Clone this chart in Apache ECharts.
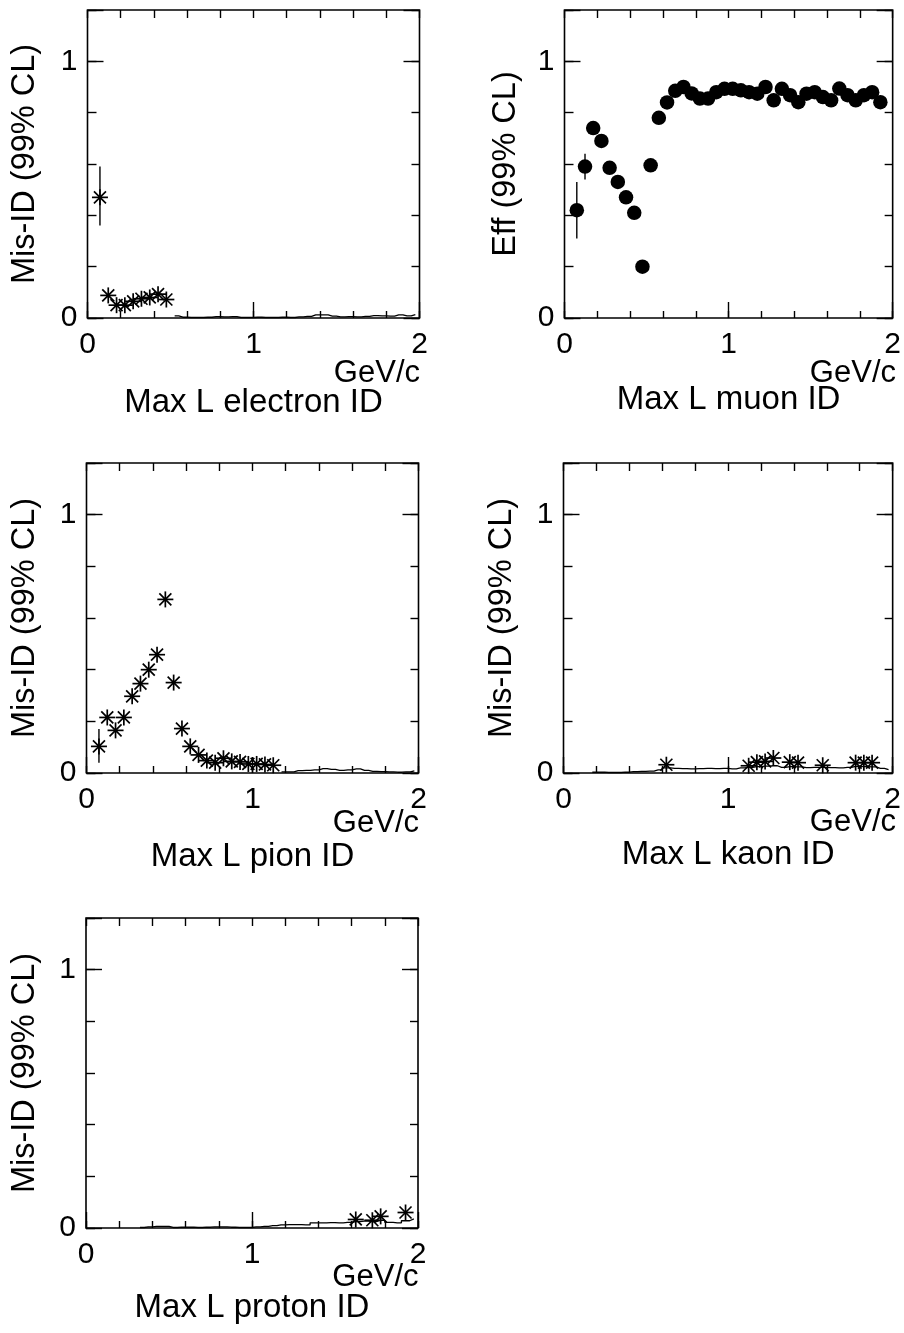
<!DOCTYPE html>
<html>
<head>
<meta charset="utf-8">
<script src="https://cdn.jsdelivr.net/npm/echarts@6/dist/echarts.min.js"></script>
<style>
  html, body { margin: 0; padding: 0; background: #fff; }
  #chart { width: 904px; height: 1333px; }
</style>
</head>
<body>
<div id="chart"></div>
<script>
// Momentum bin centres are in GeV/c (50 MeV bins).

// Max L electron ID: mis-ID rate
const electronX = [0.075, 0.125, 0.175, 0.225, 0.275, 0.325, 0.375, 0.425, 0.475];
const electronY = [0.47, 0.088, 0.05, 0.05, 0.065, 0.075, 0.08, 0.093, 0.072];
const electronErr = [[0.075, 0.36, 0.59]];
const electronStepX = [0.525, 0.575, 0.625, 0.675, 0.725, 0.775, 0.825, 0.875, 0.925, 0.975,
  1.025, 1.075, 1.125, 1.175, 1.225, 1.275, 1.325, 1.375, 1.425, 1.475,
  1.525, 1.575, 1.625, 1.675, 1.725, 1.775, 1.825, 1.875, 1.925, 1.975];
const electronStepY = [0.008, 0.003, 0.002, 0.002, 0.003, 0.005, 0.004, 0.005, 0.002, 0.002,
  0.003, 0.002, 0.002, 0.003, 0.002, 0.004, 0.006, 0.012, 0.012, 0.007,
  0.004, 0.005, 0.004, 0.006, 0.009, 0.008, 0.007, 0.012, 0.008, 0.013];

// Max L muon ID: efficiency
const muonX = [0.075, 0.125, 0.175, 0.225, 0.275, 0.325, 0.375, 0.425, 0.475, 0.525,
  0.575, 0.625, 0.675, 0.725, 0.775, 0.825, 0.875, 0.925, 0.975, 1.025,
  1.075, 1.125, 1.175, 1.225, 1.275, 1.325, 1.375, 1.425, 1.475, 1.525,
  1.575, 1.625, 1.675, 1.725, 1.775, 1.825, 1.875, 1.925];
const muonY = [0.42, 0.59, 0.74, 0.69, 0.585, 0.53, 0.47, 0.41, 0.2, 0.595,
  0.78, 0.84, 0.885, 0.9, 0.875, 0.855, 0.855, 0.88, 0.893, 0.893,
  0.887, 0.88, 0.874, 0.9, 0.848, 0.893, 0.868, 0.841, 0.874, 0.88,
  0.861, 0.848, 0.894, 0.868, 0.848, 0.868, 0.88, 0.841];
const muonErr = [[0.075, 0.31, 0.53], [0.125, 0.54, 0.64]];

// Max L pion ID: mis-ID rate
const pionX = [0.075, 0.125, 0.175, 0.225, 0.275, 0.325, 0.375, 0.425, 0.475, 0.525,
  0.575, 0.625, 0.675, 0.725, 0.775, 0.825, 0.875, 0.925, 0.975, 1.025,
  1.075, 1.125];
const pionY = [0.103, 0.215, 0.165, 0.215, 0.297, 0.346, 0.4, 0.458, 0.672, 0.35,
  0.172, 0.103, 0.07, 0.048, 0.04, 0.057, 0.045, 0.043, 0.035, 0.035,
  0.033, 0.03];
const pionErr = [[0.075, 0.04, 0.17]];
const pionStepX = [1.175, 1.225, 1.275, 1.325, 1.375, 1.425, 1.475, 1.525, 1.575, 1.625,
  1.675, 1.725, 1.775, 1.825, 1.875, 1.925, 1.975];
const pionStepY = [0.004, 0.004, 0.009, 0.01, 0.012, 0.017, 0.014, 0.01, 0.012, 0.016,
  0.01, 0.006, 0.005, 0.004, 0.003, 0.004, 0.008];

// Max L kaon ID: mis-ID rate
const kaonX = [0.625, 1.125, 1.175, 1.225, 1.275, 1.375, 1.425, 1.575, 1.775, 1.825, 1.875];
const kaonY = [0.032, 0.028, 0.042, 0.045, 0.058, 0.042, 0.04, 0.03, 0.04, 0.04, 0.04];
const kaonStepX = [0.175, 0.225, 0.275, 0.325, 0.375, 0.425, 0.475, 0.525, 0.575, 0.625,
  0.675, 0.725, 0.775, 0.825, 0.875, 0.925, 0.975, 1.025, 1.075, 1.125,
  1.175, 1.225, 1.275, 1.325, 1.375, 1.425, 1.475, 1.525, 1.575, 1.625,
  1.675, 1.725, 1.775, 1.825, 1.875, 1.925, 1.975];
const kaonStepY = [0.003, 0.003, 0.002, 0.002, 0.003, 0.005, 0.006, 0.007, 0.012, 0.02,
  0.018, 0.017, 0.016, 0.017, 0.018, 0.017, 0.018, 0.016, 0.02, 0.022,
  0.025, 0.027, 0.028, 0.022, 0.025, 0.024, 0.021, 0.022, 0.022, 0.021,
  0.02, 0.022, 0.026, 0.025, 0.024, 0.018, 0.013];

// Max L proton ID: mis-ID rate
const protonX = [1.625, 1.725, 1.775, 1.925];
const protonY = [0.033, 0.03, 0.045, 0.06];
const protonStepX = [0.325, 0.375, 0.425, 0.475, 0.525, 0.575, 0.625, 0.675, 0.725, 0.775,
  0.825, 0.875, 0.925, 0.975, 1.025, 1.075, 1.125, 1.175, 1.225, 1.275,
  1.325, 1.375, 1.425, 1.475, 1.525, 1.575, 1.625, 1.675, 1.725, 1.775,
  1.825, 1.875, 1.925, 1.975];
const protonStepY = [0.002, 0.004, 0.006, 0.006, 0.002, 0.003, 0.003, 0.002, 0.003, 0.004,
  0.004, 0.003, 0.002, 0.002, 0.004, 0.006, 0.009, 0.012, 0.013, 0.013,
  0.012, 0.02, 0.02, 0.021, 0.02, 0.022, 0.025, 0.027, 0.025, 0.03,
  0.022, 0.02, 0.028, 0.035];

// Axis labels
const xTickLabels = ['0', '1', '2'];
const yTickLabels = ['0', '1'];
const xUnit = 'GeV/c';
const titles = ['Max L electron ID', 'Max L muon ID', 'Max L pion ID', 'Max L kaon ID', 'Max L proton ID'];
const yNames = ['Mis-ID (99% CL)', 'Eff (99% CL)', 'Mis-ID (99% CL)', 'Mis-ID (99% CL)', 'Mis-ID (99% CL)'];

const FONT = '"Liberation Sans", Arial, Helvetica, sans-serif';

const panels = [
  { x: electronX, y: electronY, err: electronErr, marker: 'star', stepX: electronStepX, stepY: electronStepY },
  { x: muonX, y: muonY, err: muonErr, marker: 'dot' },
  { x: pionX, y: pionY, err: pionErr, marker: 'star', stepX: pionStepX, stepY: pionStepY },
  { x: kaonX, y: kaonY, err: [], marker: 'star', stepX: kaonStepX, stepY: kaonStepY },
  { x: protonX, y: protonY, err: [], marker: 'star', stepX: protonStepX, stepY: protonStepY }
];

// Frame geometry for the five panels
const frames = [
  { left: 87.5, top: 10, width: 332, height: 308, yGap: 45.5, titleGap: 68.5, unitDy: 55 },
  { left: 564.5, top: 10, width: 331, height: 308, yGap: 42, titleGap: 65.5, unitDy: 55 },
  { left: 86.5, top: 463, width: 332, height: 310, yGap: 44.5, titleGap: 67, unitDy: 50 },
  { left: 563.5, top: 463, width: 332, height: 310, yGap: 44.5, titleGap: 65, unitDy: 49 },
  { left: 86, top: 918, width: 332, height: 310, yGap: 44, titleGap: 63, unitDy: 49 }
];

const tickStyle = { color: '#000', width: 1.4 };

function valueAxis(gridIndex, extra) {
  return Object.assign({
    type: 'value',
    gridIndex: gridIndex,
    axisLine: { show: false, onZero: false },
    splitLine: { show: false },
    axisLabel: { show: false },
    axisTick: { show: true, inside: true, length: 8, lineStyle: tickStyle }
  }, extra);
}

// Eight-armed asterisk marker with a dot at its centre
function renderStar(params, api) {
  const p = api.coord([api.value(0), api.value(1)]);
  const r = 8;
  const d = 6;
  const st = { stroke: '#000', lineWidth: 1.7 };
  return {
    type: 'group',
    children: [
      { type: 'line', shape: { x1: p[0] - r, y1: p[1], x2: p[0] + r, y2: p[1] }, style: st },
      { type: 'line', shape: { x1: p[0], y1: p[1] - r, x2: p[0], y2: p[1] + r }, style: st },
      { type: 'line', shape: { x1: p[0] - d, y1: p[1] - d, x2: p[0] + d, y2: p[1] + d }, style: st },
      { type: 'line', shape: { x1: p[0] - d, y1: p[1] + d, x2: p[0] + d, y2: p[1] - d }, style: st },
      { type: 'circle', shape: { cx: p[0], cy: p[1], r: 2 }, style: { fill: '#000' } }
    ]
  };
}

// Vertical error bar from low to high value
function renderErr(params, api) {
  const a = api.coord([api.value(0), api.value(1)]);
  const b = api.coord([api.value(0), api.value(2)]);
  return {
    type: 'line',
    shape: { x1: a[0], y1: a[1], x2: b[0], y2: b[1] },
    style: { stroke: '#000', lineWidth: 1.4 }
  };
}

const grid = [], xAxis = [], yAxis = [], series = [], graphic = [];

panels.forEach((pn, i) => {
  const f = frames[i];
  grid.push({
    left: f.left, top: f.top, width: f.width, height: f.height,
    show: true, borderColor: '#000', borderWidth: 1.6, backgroundColor: 'transparent'
  });

  const xBase = { min: 0, max: 2 };
  const yBase = { min: 0, max: 1.2 };

  // x axes: bottom minor ticks, bottom major ticks with labels, top ticks
  xAxis.push(valueAxis(i, Object.assign({ position: 'bottom', interval: 0.2,
    axisTick: { show: true, inside: true, length: 7, lineStyle: tickStyle } }, xBase)));
  const xMain = xAxis.length;
  xAxis.push(valueAxis(i, Object.assign({
    position: 'bottom', interval: 1,
    axisTick: { show: true, inside: true, length: 16, lineStyle: tickStyle },
    axisLabel: {
      show: true, margin: 12, color: '#000', fontSize: 30, fontFamily: FONT,
      formatter: v => xTickLabels[Math.round(v)] || ''
    },
    name: titles[i], nameLocation: 'middle', nameGap: f.titleGap,
    nameTextStyle: { color: '#000', fontSize: 33, fontFamily: FONT }
  }, xBase)));
  xAxis.push(valueAxis(i, Object.assign({ position: 'top', interval: 0.2,
    axisTick: { show: true, inside: true, length: 8, lineStyle: tickStyle } }, xBase)));

  // y axes: left minor, left major with labels, right minor, right major
  yAxis.push(valueAxis(i, Object.assign({ position: 'left', interval: 0.2,
    axisTick: { show: true, inside: true, length: 9, lineStyle: tickStyle } }, yBase)));
  const yMain = yAxis.length;
  yAxis.push(valueAxis(i, Object.assign({
    position: 'left', interval: 1,
    axisTick: { show: true, inside: true, length: 16, lineStyle: tickStyle },
    axisLabel: {
      show: true, margin: 10, color: '#000', fontSize: 30, fontFamily: FONT,
      formatter: v => (Math.abs(v - Math.round(v)) < 1e-9 ? (yTickLabels[Math.round(v)] || '') : '')
    },
    name: yNames[i], nameLocation: 'middle', nameGap: f.yGap, nameRotate: 90,
    nameTextStyle: { color: '#000', fontSize: 32.5, fontFamily: FONT }
  }, yBase)));
  yAxis.push(valueAxis(i, Object.assign({ position: 'right', interval: 0.2,
    axisTick: { show: true, inside: true, length: 8, lineStyle: tickStyle } }, yBase)));
  yAxis.push(valueAxis(i, Object.assign({ position: 'right', interval: 1,
    axisTick: { show: true, inside: true, length: 16, lineStyle: tickStyle } }, yBase)));

  const axes = { xAxisIndex: xMain, yAxisIndex: yMain };

  if (pn.stepX) {
    series.push(Object.assign({
      type: 'line', step: 'middle', showSymbol: false, symbol: 'none',
      lineStyle: { color: '#000', width: 1.3 },
      data: pn.stepX.map((x, k) => [x, pn.stepY[k]]),
      z: 2
    }, axes));
  }
  if (pn.err.length) {
    series.push(Object.assign({
      type: 'custom', renderItem: renderErr, data: pn.err, z: 3
    }, axes));
  }
  const pts = pn.x.map((x, k) => [x, pn.y[k]]);
  if (pn.marker === 'dot') {
    series.push(Object.assign({
      type: 'scatter', symbol: 'circle', symbolSize: 14.5,
      itemStyle: { color: '#000', opacity: 1 }, data: pts, z: 4
    }, axes));
  } else {
    series.push(Object.assign({
      type: 'custom', renderItem: renderStar, data: pts, z: 4
    }, axes));
  }

  graphic.push({
    type: 'text',
    x: f.left + f.width + 0.5,
    y: f.top + f.height + f.unitDy,
    style: { text: xUnit, fill: '#000', font: '31px ' + FONT, align: 'right', verticalAlign: 'middle' }
  });
});

const chart = echarts.init(document.getElementById('chart'), null, { renderer: 'canvas' });
chart.setOption({
  backgroundColor: '#fff',
  animation: false,
  grid: grid,
  xAxis: xAxis,
  yAxis: yAxis,
  series: series,
  graphic: graphic
});
</script>
</body>
</html>
